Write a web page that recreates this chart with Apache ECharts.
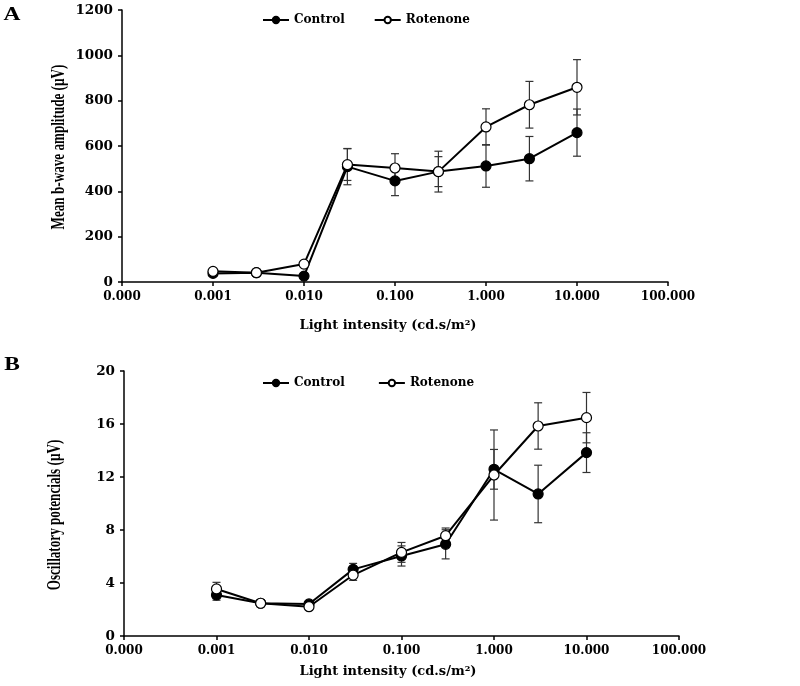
<!DOCTYPE html>
<html>
<head>
<meta charset="utf-8">
<script src="https://cdn.jsdelivr.net/npm/echarts@6/dist/echarts.min.js"></script>
<style>html,body{margin:0;padding:0;background:#fff}#c{width:800px;height:686px}</style>
</head>
<body>
<div id="c"></div>
<script>
var intensities = [0.001, 0.003, 0.01, 0.03, 0.1, 0.3, 1, 3, 10];

var bwaveControl = [38, 41, 26, 509, 446, 487, 512, 544, 659];
var bwaveControlErr = [6, 5, 5, 80, 65, 66, 94, 98, 104];
var bwaveRotenone = [47, 41, 79, 518, 503, 487, 684, 782, 859];
var bwaveRotenoneErr = [6, 5, 8, 70, 63, 90, 80, 103, 122];

var opControl = [3.1, 2.47, 2.42, 5.03, 6.04, 6.92, 12.58, 10.72, 13.84];
var opControlErr = [0.4, 0.15, 0.15, 0.45, 0.76, 1.1, 1.5, 2.17, 1.5];
var opRotenone = [3.55, 2.47, 2.21, 4.6, 6.31, 7.57, 12.15, 15.85, 16.48];
var opRotenoneErr = [0.5, 0.15, 0.15, 0.4, 0.75, 0.58, 3.4, 1.75, 1.9];

var xTickMin = 0.0001, xTickMax = 100;
var seriesNames = ['Control', 'Rotenone'];
var titleA = 'Mean b-wave amplitude (\u00B5V)';
var titleB = 'Oscillatory potencials (\u00B5V)';
var xTitle = 'Light intensity (cd.s/m\u00B2)';

var SERIF = 'Liberation Serif';
var WIDE = 'DejaVu Serif';

function pairs(xs, ys) { return xs.map(function (x, i) { return [x, ys[i]]; }); }
function errData(xs, ys, es) { return xs.map(function (x, i) { return [x, ys[i] - es[i], ys[i] + es[i]]; }); }

function errSeries(idx, data) {
  return {
    type: 'custom', xAxisIndex: idx, yAxisIndex: idx, z: 1, silent: true,
    data: data,
    encode: { x: 0, y: [1, 2] },
    renderItem: function (params, api) {
      var x = api.value(0);
      var lo = api.coord([x, api.value(1)]);
      var hi = api.coord([x, api.value(2)]);
      var w = 4;
      var st = { stroke: '#333', lineWidth: 1.2 };
      return {
        type: 'group',
        children: [
          { type: 'line', shape: { x1: lo[0], y1: lo[1], x2: hi[0], y2: hi[1] }, style: st },
          { type: 'line', shape: { x1: lo[0] - w, y1: lo[1], x2: lo[0] + w, y2: lo[1] }, style: st },
          { type: 'line', shape: { x1: hi[0] - w, y1: hi[1], x2: hi[0] + w, y2: hi[1] }, style: st }
        ]
      };
    }
  };
}

function lineSeries(idx, name, data, filled) {
  return {
    type: 'line', name: name, xAxisIndex: idx, yAxisIndex: idx, z: 3,
    data: data, symbol: 'circle', symbolSize: 10,
    lineStyle: { color: '#000', width: 2 },
    itemStyle: { color: filled ? '#000' : '#fff', borderColor: '#000', borderWidth: 1.2 },
    emphasis: { disabled: true }
  };
}

function tickText(size) { return { fontFamily: WIDE, fontWeight: 'bold', fontSize: size, color: '#000' }; }

function xAxisDef(idx) {
  return {
    type: 'log', logBase: 10, min: xTickMin, max: xTickMax, gridIndex: idx,
    axisLine: { lineStyle: { color: '#000', width: 1.5 } },
    axisTick: { show: true, length: 4, lineStyle: { color: '#000', width: 1.5 } },
    axisLabel: Object.assign({ formatter: function (v) { return Number(v).toFixed(3); }, margin: 9 }, tickText(12)),
    splitLine: { show: false },
    minorTick: { show: false }
  };
}

function yAxisDef(idx, max, interval) {
  return {
    type: 'value', min: 0, max: max, interval: interval, gridIndex: idx,
    axisLine: { show: true, lineStyle: { color: '#000', width: 1.5 } },
    axisTick: { show: true, length: 4, lineStyle: { color: '#000', width: 1.5 } },
    axisLabel: Object.assign({ margin: 9, formatter: function (v) { return String(v); } }, tickText(13.5)),
    splitLine: { show: false }
  };
}

var legendCommon = {
  itemWidth: 26, itemHeight: 8, itemGap: 29,
  textStyle: { fontFamily: WIDE, fontWeight: 'bold', fontSize: 12, color: '#000' },
  selectedMode: false
};

function rotTitle(text, cx, cy) {
  return {
    type: 'text', x: cx, y: cy, rotation: Math.PI / 2, scaleX: 0.73, scaleY: 1.1,
    style: { text: text, fontFamily: SERIF, fontWeight: 'bold', fontSize: 18, fill: '#000', align: 'center', verticalAlign: 'middle' }
  };
}
function hText(text, cx, cy, size, font, sx) {
  return {
    type: 'text', x: cx, y: cy, scaleX: sx || 1,
    style: { text: text, fontFamily: font, fontWeight: 'bold', fontSize: size, fill: '#000', align: 'center', verticalAlign: 'middle' }
  };
}

var chart = echarts.init(document.getElementById('c'), null, { renderer: 'canvas' });
chart.setOption({
  animation: false,
  backgroundColor: '#fff',
  grid: [
    { left: 122, top: 10, width: 546, height: 272 },
    { left: 124, top: 371, width: 555, height: 265 }
  ],
  legend: [
    Object.assign({ left: 257, top: 9, data: [seriesNames[0], seriesNames[1]] }, legendCommon),
    Object.assign({ left: 257, top: 372, data: [seriesNames[0] + ' ', seriesNames[1] + ' '] }, legendCommon)
  ],
  xAxis: [xAxisDef(0), xAxisDef(1)],
  yAxis: [yAxisDef(0, 1200, 200), yAxisDef(1, 20, 4)],
  graphic: [
    hText('A', 12, 15, 18, SERIF, 1.3),
    hText('B', 12, 365, 18, SERIF, 1.3),
    rotTitle(titleA, 59, 147),
    rotTitle(titleB, 55, 515),
    hText(xTitle, 388, 326, 13, WIDE),
    hText(xTitle, 388, 672, 13, WIDE)
  ],
  series: [
    errSeries(0, errData(intensities, bwaveControl, bwaveControlErr)),
    errSeries(0, errData(intensities, bwaveRotenone, bwaveRotenoneErr)),
    lineSeries(0, seriesNames[0], pairs(intensities, bwaveControl), true),
    lineSeries(0, seriesNames[1], pairs(intensities, bwaveRotenone), false),
    errSeries(1, errData(intensities, opControl, opControlErr)),
    errSeries(1, errData(intensities, opRotenone, opRotenoneErr)),
    lineSeries(1, seriesNames[0] + ' ', pairs(intensities, opControl), true),
    lineSeries(1, seriesNames[1] + ' ', pairs(intensities, opRotenone), false)
  ]
});
</script>
</body>
</html>
